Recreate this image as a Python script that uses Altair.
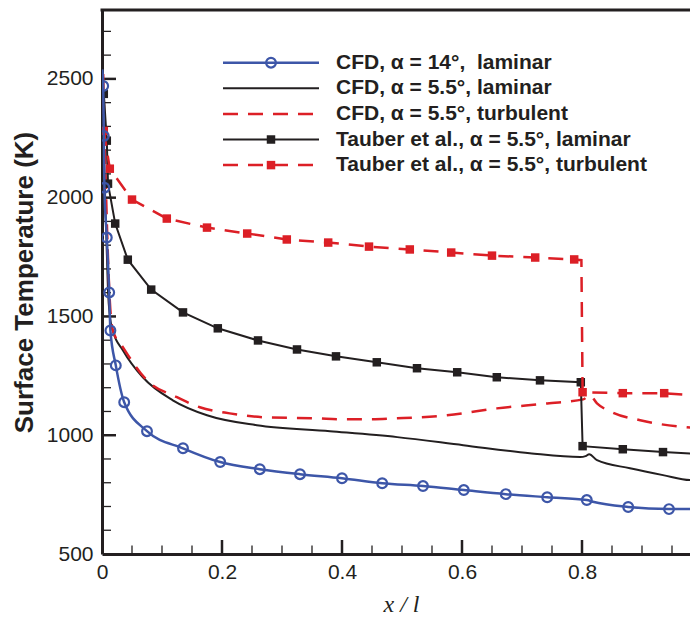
import altair as alt
import pandas as pd

# ---------------- data ----------------
# CFD, alpha = 14 deg, laminar (line + circle markers)
cfd14_x = [0.0005, 0.002, 0.003, 0.004, 0.008, 0.012, 0.014, 0.023, 0.037, 0.075, 0.135, 0.197,
           0.263, 0.330, 0.400, 0.467, 0.535, 0.603, 0.673, 0.742, 0.808, 0.818, 0.877, 0.945,
           0.985, 0.992]
cfd14_y = [2540, 2470, 2260, 2042, 1832, 1601, 1441, 1294, 1139, 1017, 945, 887,
           857, 836, 819, 798, 786, 769, 752, 739, 727, 720, 698, 689,
           690, 727]
cfd14_mx = [0.002, 0.003, 0.004, 0.008, 0.012, 0.014, 0.023, 0.037, 0.075, 0.135, 0.197,
            0.263, 0.330, 0.400, 0.467, 0.535, 0.603, 0.673, 0.742, 0.808, 0.877, 0.945, 0.992]
cfd14_my = [2470, 2260, 2042, 1832, 1601, 1441, 1294, 1139, 1017, 945, 887,
            857, 836, 819, 798, 786, 769, 752, 739, 727, 698, 689, 727]

# CFD, alpha = 5.5 deg, laminar (solid black)
cfd55l_x = [0.0, 0.003, 0.007, 0.010, 0.013, 0.018, 0.035, 0.068, 0.118, 0.175, 0.258, 0.380,
            0.492, 0.602, 0.713, 0.797, 0.806, 0.812, 0.825, 0.880, 0.935, 0.980, 0.993]
cfd55l_y = [2576, 2197, 1861, 1609, 1504, 1441, 1357, 1244, 1147, 1084, 1042, 1017,
            992, 958, 924, 908, 912, 920, 895, 861, 832, 811, 819]

# CFD, alpha = 5.5 deg, turbulent (dashed red)
cfd55t_x = [0.002, 0.005, 0.008, 0.013, 0.018, 0.035, 0.075, 0.125, 0.163, 0.213, 0.268, 0.358,
            0.400, 0.450, 0.490, 0.575, 0.658, 0.742, 0.802, 0.813, 0.825, 0.850, 0.897, 0.993]
cfd55t_y = [2520, 2197, 1903, 1567, 1441, 1370, 1231, 1160, 1118, 1092, 1076, 1071,
            1067, 1067, 1071, 1084, 1113, 1134, 1151, 1168, 1134, 1097, 1063, 1029]

# Tauber et al., alpha = 5.5 deg, laminar (black + squares)
tl_x = [0.003, 0.008, 0.010, 0.022, 0.043, 0.082, 0.135, 0.193, 0.260, 0.325, 0.390, 0.458,
        0.525, 0.592, 0.658, 0.730, 0.798, 0.801, 0.868, 0.935, 1.000]
tl_y = [2437, 2240, 2059, 1891, 1739, 1613, 1517, 1450, 1399, 1361, 1332, 1307,
        1282, 1265, 1244, 1231, 1223, 954, 941, 929, 921]
tl_mx = tl_x[:-1]
tl_my = tl_y[:-1]

# Tauber et al., alpha = 5.5 deg, turbulent (dashed red + squares)
tt_x = [0.003, 0.013, 0.050, 0.108, 0.175, 0.242, 0.308, 0.377, 0.445, 0.513, 0.582, 0.650,
        0.722, 0.787, 0.799, 0.801, 0.868, 0.937, 1.000]
tt_y = [2281, 2122, 1992, 1912, 1874, 1849, 1824, 1811, 1794, 1782, 1769, 1756,
        1748, 1740, 1737, 1181, 1177, 1177, 1166]
tt_mx = [0.003, 0.013, 0.050, 0.108, 0.175, 0.242, 0.308, 0.377, 0.445, 0.513, 0.582, 0.650,
         0.722, 0.787, 0.801, 0.868, 0.937]
tt_my = [2281, 2122, 1992, 1912, 1874, 1849, 1824, 1811, 1794, 1782, 1769, 1756,
         1748, 1740, 1181, 1177, 1177]

legend_labels = ["CFD, \u03b1 = 14\u00b0,\u00a0 laminar",
                 "CFD, \u03b1 = 5.5\u00b0, laminar",
                 "CFD, \u03b1 = 5.5\u00b0, turbulent",
                 "Tauber et al., \u03b1 = 5.5\u00b0, laminar",
                 "Tauber et al., \u03b1 = 5.5\u00b0, turbulent"]

x_labels = [0, 0.2, 0.4, 0.6, 0.8]
x_minor = [0.05, 0.1, 0.15, 0.25, 0.3, 0.35, 0.45, 0.5, 0.55, 0.65, 0.7, 0.75, 0.85, 0.9, 0.95]
x_major = [0.2, 0.4, 0.6, 0.8]
y_labels = [500, 1000, 1500, 2000, 2500]
y_major = [1000, 1500, 2000, 2500]
y_minor = [v for v in range(600, 2800, 100) if v % 500 != 0]

# ---------------- styling ----------------
BLUE = "#3d56a8"
RED = "#dc1f26"
BLACK = "#231f20"
W, H = 588, 544
XMAX = 0.98
YMIN, YMAX = 500, 2790
DASH = [15, 10]

xs = alt.Scale(domain=[0, XMAX], nice=False, zero=False)
ys = alt.Scale(domain=[YMIN, YMAX], nice=False, zero=False)

xaxis = alt.Axis(values=x_labels, format=".1~f", ticks=False, tickSize=0, grid=False,
                 domainWidth=3, domainColor=BLACK, labelFont="Liberation Sans",
                 labelFontSize=21, labelColor=BLACK, labelPadding=7, labelFlush=False,
                 labelOverlap=False, title="x / l", titleFont="Liberation Serif",
                 titleFontStyle="italic", titleFontWeight="normal", titleFontSize=24,
                 titleColor=BLACK, titleX=299, titleY=57, titleAlign="center",
                 titleBaseline="alphabetic")
yaxis = alt.Axis(values=y_labels, format="d", ticks=False, tickSize=0, grid=False,
                 domainWidth=3, domainColor=BLACK, labelFont="Liberation Sans",
                 labelFontSize=21, labelColor=BLACK, labelPadding=9, labelFlush=False,
                 labelOverlap=False, title="Surface Temperature (K)",
                 titleFont="Liberation Sans", titleFontWeight="bold", titleFontSize=26,
                 titleColor=BLACK, titleAngle=270, titleX=-78, titleY=272,
                 titleAlign="center", titleBaseline="middle")


def X(f="x"):
    return alt.X(f"{f}:Q", scale=xs, axis=xaxis)


def Y(f="y"):
    return alt.Y(f"{f}:Q", scale=ys, axis=yaxis)


def frame(x, y):
    return pd.DataFrame({"x": x, "y": y, "i": list(range(len(x)))})


def line(x, y, color, width, dash=None, interp="linear"):
    kw = dict(color=color, strokeWidth=width, clip=True, interpolate=interp)
    if dash:
        kw["strokeDash"] = dash
    return alt.Chart(frame(x, y)).mark_line(**kw).encode(x=X(), y=Y(), order="i:Q")


def squares(x, y, color):
    return alt.Chart(frame(x, y)).mark_square(size=72, color=color, opacity=1,
                                              clip=True).encode(x=X(), y=Y())


def circles(x, y):
    return alt.Chart(frame(x, y)).mark_point(shape="circle", size=95, filled=False,
                                             color=BLUE, strokeWidth=2.2,
                                             opacity=1, clip=True).encode(x=X(), y=Y())


layers = []
# ticks drawn inward
layers.append(alt.Chart(pd.DataFrame({"y": y_minor})).mark_rule(color=BLACK, strokeWidth=1.3)
              .encode(y=Y(), x=alt.value(0), x2=alt.value(9)))
layers.append(alt.Chart(pd.DataFrame({"y": y_major})).mark_rule(color=BLACK, strokeWidth=2.5)
              .encode(y=Y(), x=alt.value(0), x2=alt.value(14)))
layers.append(alt.Chart(pd.DataFrame({"x": x_minor})).mark_rule(color=BLACK, strokeWidth=1.3, clip=True)
              .encode(x=X(), y=alt.value(H), y2=alt.value(H - 8.5)))
layers.append(alt.Chart(pd.DataFrame({"x": x_major})).mark_rule(color=BLACK, strokeWidth=2.5)
              .encode(x=X(), y=alt.value(H), y2=alt.value(H - 14)))
# top border
layers.append(alt.Chart(pd.DataFrame({"a": [0]})).mark_rule(color=BLACK, strokeWidth=3)
              .encode(x=alt.value(-1.5), x2=alt.value(W), y=alt.value(0)))

# data series
layers.append(line(cfd55l_x, cfd55l_y, BLACK, 2, interp="monotone"))
layers.append(line(cfd55t_x, cfd55t_y, RED, 2.5, DASH, interp="monotone"))
layers.append(line(tl_x, tl_y, BLACK, 2))
layers.append(squares(tl_mx, tl_my, BLACK))
layers.append(line(tt_x, tt_y, RED, 2.5, DASH))
layers.append(squares(tt_mx, tt_my, RED))
layers.append(line(cfd14_x, cfd14_y, BLUE, 2.5, interp="monotone"))
layers.append(circles(cfd14_mx, cfd14_my))

# legend (manual, drawn in plot pixel space)
one = pd.DataFrame({"a": [0]})
LX1, LX2, LXM, LXT = 121, 217, 169, 234
rows = [52.7 + 25.6 * k for k in range(5)]
styles = [(BLUE, 2.5, None, "circle"), (BLACK, 2, None, None), (RED, 2.5, DASH, None),
          (BLACK, 2, None, "square"), (RED, 2.5, DASH, "square")]
for (col, sw, dash, mk), yy, lab in zip(styles, rows, legend_labels):
    kw = dict(color=col, strokeWidth=sw)
    if dash:
        kw["strokeDash"] = dash
    layers.append(alt.Chart(one).mark_rule(**kw)
                  .encode(x=alt.value(LX1), x2=alt.value(LX2), y=alt.value(yy)))
    if mk == "circle":
        layers.append(alt.Chart(one).mark_point(shape="circle", size=95, filled=False,
                                                color=col, strokeWidth=2.2, opacity=1)
                      .encode(x=alt.value(LXM), y=alt.value(yy)))
    elif mk == "square":
        layers.append(alt.Chart(one).mark_square(size=72, color=col, opacity=1)
                      .encode(x=alt.value(LXM), y=alt.value(yy)))
    layers.append(alt.Chart(one).mark_text(align="left", baseline="middle",
                                           font="Liberation Sans", fontWeight="bold",
                                           fontSize=21, color=BLACK)
                  .encode(x=alt.value(LXT), y=alt.value(yy), text=alt.value(lab)))

chart = alt.layer(*layers).properties(
    width=W, height=H,
    padding={"left": 94, "top": 2, "right": 0, "bottom": 62},
    autosize=alt.AutoSizeParams(type="none"),
    background="white",
).configure_view(stroke=None)

chart.save("out.html", embed_options={"renderer": "svg", "actions": False})
